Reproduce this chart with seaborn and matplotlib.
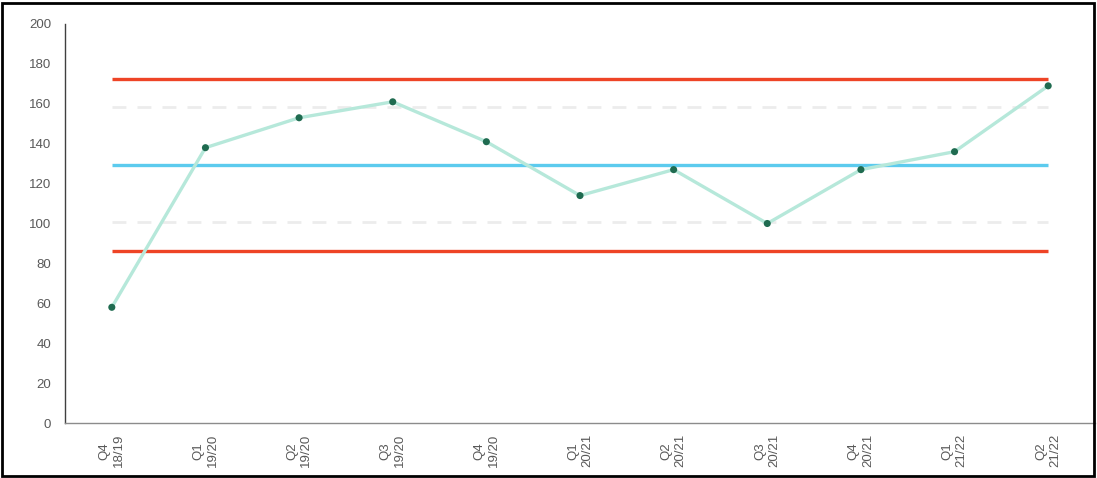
import pandas as pd
import numpy as np
import matplotlib.pyplot as plt
import seaborn as sns
from matplotlib.patches import Rectangle

# values
periods = ['Q4\n18/19', 'Q1\n19/20', 'Q2\n19/20', 'Q3\n19/20', 'Q4\n19/20',
           'Q1\n20/21', 'Q2\n20/21', 'Q3\n20/21', 'Q4\n20/21', 'Q1\n21/22', 'Q2\n21/22']
values = [58, 138, 153, 161, 141, 114, 127, 100, 127, 136, 169]
mean_line = 129.4
upper_limit = 172.4
lower_limit = 86.2
upper_warn = 158.4
lower_warn = 100.6
yticks = [0, 20, 40, 60, 80, 100, 120, 140, 160, 180, 200]

df = pd.DataFrame({'period': periods, 'value': values})

sns.set_style('white')
plt.rcParams['font.family'] = ['Liberation Sans', 'DejaVu Sans']

fig = plt.figure(figsize=(10.97, 4.78), dpi=100)
ax = fig.add_axes([65 / 1097, 1 - 423 / 478, 1030 / 1097, (423 - 24) / 478])

x0, x1 = 0, len(periods) - 1
ax.hlines(upper_warn, x0, x1, colors='#ececec', linewidth=2, linestyles=(0, (5, 4)), zorder=1)
ax.hlines(lower_warn, x0, x1, colors='#ececec', linewidth=2, linestyles=(0, (5, 4)), zorder=1)
ax.hlines(upper_limit, x0, x1, colors='#ee4426', linewidth=2.4, zorder=2)
ax.hlines(lower_limit, x0, x1, colors='#ee4426', linewidth=2.4, zorder=2)
ax.hlines(mean_line, x0, x1, colors='#5ccbee', linewidth=2.4, zorder=2)

sns.lineplot(data=df, x='period', y='value', ax=ax, color='#b6e8da', linewidth=2.4,
             sort=False, zorder=3)
sns.scatterplot(data=df, x='period', y='value', ax=ax, color='#1f6b50', s=26,
                edgecolor='none', zorder=4)

ax.set_xlim(-0.5, len(periods) - 0.5)
ax.set_ylim(0, 200)
ax.set_yticks(yticks)
ax.set_xlabel('')
ax.set_ylabel('')
ax.tick_params(axis='y', length=0, pad=10, labelsize=9.5, labelcolor='#595959')
ax.tick_params(axis='x', length=0, pad=8, labelsize=9.5, labelcolor='#595959')
for lab in ax.get_xticklabels():
    lab.set_rotation(90)
    lab.set_ha('center')
    lab.set_va('top')
    lab.set_linespacing(1.25)

sns.despine(ax=ax, top=True, right=True)
ax.spines['left'].set_color('#404040')
ax.spines['left'].set_linewidth(1.0)
ax.spines['bottom'].set_color('#8c8c8c')
ax.spines['bottom'].set_linewidth(1.0)

fig.patches.append(Rectangle((0.002, 0.004), 0.995, 0.99, transform=fig.transFigure,
                             fill=False, edgecolor='black', linewidth=2))

fig.savefig('out.png', dpi=100)
